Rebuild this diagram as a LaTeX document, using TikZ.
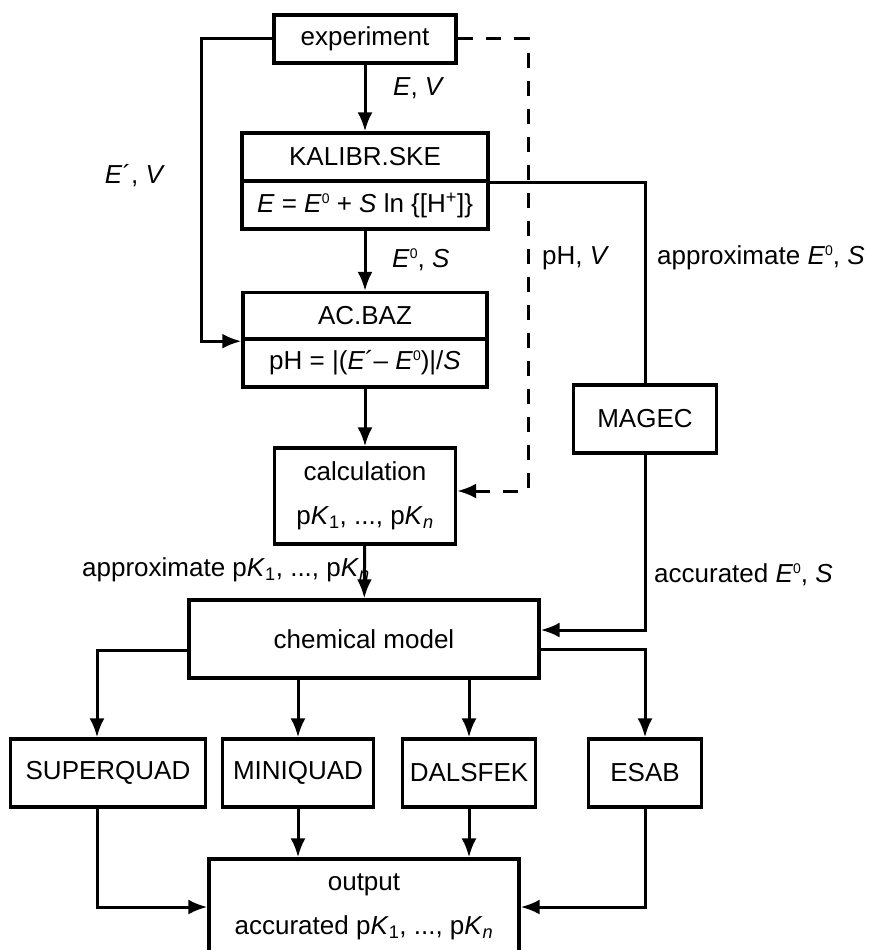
\documentclass[tikz,border=0pt]{standalone}
\usepackage{fontspec}
\setmainfont{Liberation Sans}
\usetikzlibrary{arrows.meta, positioning, calc}
\newcommand{\supo}{\raisebox{9pt}{\fontsize{14}{14}\selectfont 0}}

\begin{document}
\begin{tikzpicture}[
    x=1pt, y=-1pt,
    font=\fontsize{26}{30}\selectfont,
    box/.style={rectangle, draw=black, line width=3.4pt, inner sep=0pt, align=center},
    two line box/.style={box, font=\fontsize{26}{44}\selectfont},
    connection/.style={line width=3pt},
    flow/.style={connection, -{Latex[length=19pt, width=15pt]}},
    dashed flow/.style={flow, dash pattern=on 15pt off 13pt},
    edge label/.style={inner sep=0pt}
]
    \useasboundingbox (0,0) rectangle (874,950);

    % Measurement and calibration
    \node[box, minimum width=182, minimum height=48] (exp) at (365,39) {experiment};
    \node[box, minimum width=246, minimum height=48] (kal) at (365,157) {KALIBR.SKE};
    \node[box, minimum width=246, minimum height=48] (kalf) at (365,205)
        {\textit{E} = \textit{E}\supo{} + \textit{S} ln \{[H\textsuperscript{+}]\}};
    \node[box, minimum width=244, minimum height=47] (acb) at (365,316) {AC.BAZ};
    \node[box, minimum width=244, minimum height=48] (acbf) at (365,363)
        {pH = |(\textit{E}´– \textit{E}\supo)|/\textit{S}};
    \node[two line box, minimum width=181, minimum height=96] (calc) at (365,496)
        {calculation\\p\textit{K}\textsubscript{1}, ..., p\textit{K}\textsubscript{\textit{n}}};
    \node[box, minimum width=143, minimum height=68] (magec) at (645,419) {MAGEC};

    % Model and refinement programs
    \node[box, minimum width=350, minimum height=78] (chem) at (364,639) {chemical model};
    \node[box, minimum width=195, minimum height=68] (sq) at (108,773) {SUPERQUAD};
    \node[box, minimum width=151, minimum height=68] (mq) at (298,773) {MINIQUAD};
    \node[box, minimum width=133, minimum height=68] (dal) at (469,773) {DALSFEK};
    \node[box, minimum width=113, minimum height=68] (esab) at (645,773) {ESAB};
    \node[two line box, minimum width=310, minimum height=96] (out) at (364,907)
        {output\\accurated p\textit{K}\textsubscript{1}, ..., p\textit{K}\textsubscript{\textit{n}}};

    % Corner point of the dashed return
    \coordinate (dsh) at (528,491);

    % Connections
    \draw[flow] (exp) -- (kal);
    \draw[flow] (kalf) -- (acb);
    \draw[flow] (acbf) -- (calc);
    \draw[flow] (calc) -- (chem);
    \draw[flow] (exp.west) -| ([xshift=-40pt]acb.south west) -- (acb.south west);
    \draw[connection] (kal.south east) -| (magec.north);
    \draw[flow] (magec.south) |- ([yshift=9pt]chem.east);
    \draw[dashed flow] (exp.east) -| (dsh) -- (calc.east |- dsh);

    \draw[flow] ([yshift=-11pt]chem.west) -| ([xshift=-11pt]sq.north);
    \draw[flow] ([yshift=-10pt]chem.east) -| (esab.north);
    \foreach \p in {mq, dal} {
        \draw[flow] (\p.north |- chem.south) -- (\p.north);
        \draw[flow] (\p.south) -- (\p.south |- out.north);
    }
    \draw[flow] ([xshift=-11pt]sq.south) |- (out.west);
    \draw[flow] (esab.south) |- (out.east);

    % Labels
    \node[edge label, anchor=west] (lev) at (393,88) {\textit{E}, \textit{V}};
    \node[edge label] (lepv) at (135,176) {\textit{E}´, \textit{V}};
    \node[edge label, anchor=west] (les) at (392,260) {\textit{E}\supo, \textit{S}};
    \node[edge label, anchor=west] (lph) at (542,258) {pH, \textit{V}};
    \node[edge label, anchor=west] (lapp) at (657,258) {approximate \textit{E}\supo, \textit{S}};
    \node[edge label, anchor=east] (lpk) at (370,570)
        {approximate p\textit{K}\textsubscript{1}, ..., p\textit{K}\textsubscript{\textit{n}}};
    \node[edge label, anchor=west] (lacc) at (654,575) {accurated \textit{E}\supo, \textit{S}};
\end{tikzpicture}
\end{document}
